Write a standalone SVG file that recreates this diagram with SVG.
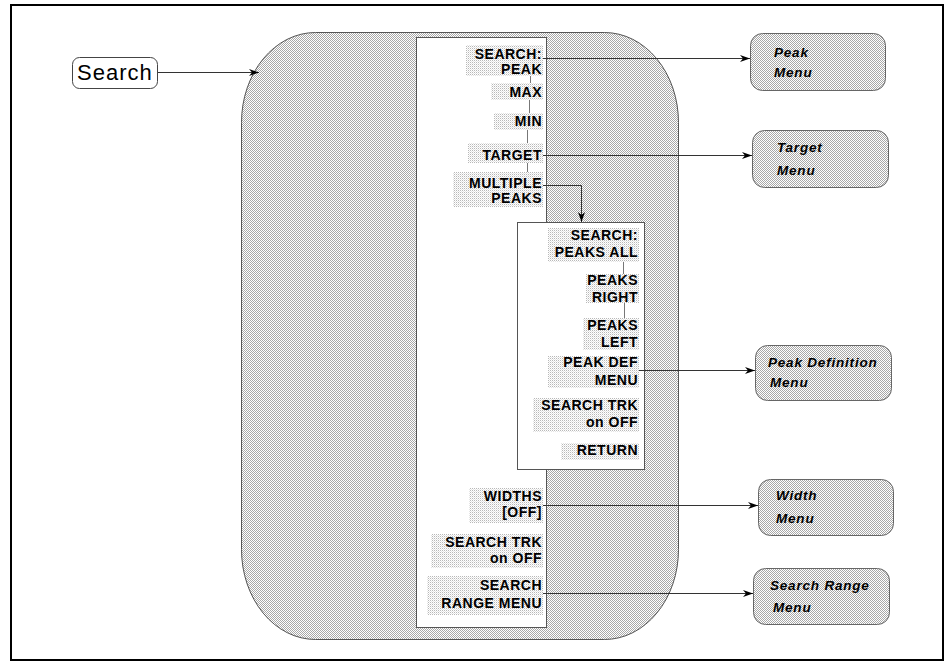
<svg xmlns="http://www.w3.org/2000/svg" width="947" height="662" viewBox="0 0 947 662">
<defs>
<pattern id="dither" patternUnits="userSpaceOnUse" x="0" y="0" width="2" height="2">
<rect width="2" height="2" fill="#ffffff"/>
<rect x="0" y="0" width="1" height="1" fill="#a8a8a8"/>
<rect x="1" y="1" width="1" height="1" fill="#a8a8a8"/>
</pattern>
<pattern id="dots" patternUnits="userSpaceOnUse" x="0" y="0" width="2" height="2">
<rect width="2" height="2" fill="#ffffff"/>
<rect x="0" y="0" width="1" height="1" fill="#b8b8b8"/>
<rect x="1" y="1" width="1" height="1" fill="#e4e4e4"/>
</pattern>
<marker id="arr" markerWidth="10" markerHeight="7" refX="10" refY="3.5" orient="auto" markerUnits="userSpaceOnUse">
<path d="M0,0 L10,3.5 L0,7 L3,3.5 z" fill="#000"/>
</marker>
<style>
.frame{fill:none;stroke:#000;stroke-width:2}
.big{fill:url(#dither);stroke:#555;stroke-width:1}
.col{fill:#fff;stroke:#555;stroke-width:1}
.lbg{fill:url(#dots)}
.lbl{font-family:"Liberation Sans",Arial,sans-serif;font-size:14px;font-weight:bold;letter-spacing:0.5px;fill:#000;text-anchor:end}
.box{fill:url(#dither);stroke:#666;stroke-width:1}
.btxt{font-family:"Liberation Sans",Arial,sans-serif;font-size:13.5px;font-weight:bold;font-style:italic;letter-spacing:0.8px;fill:#000}
.conn{fill:none;stroke:#333;stroke-width:1}
.tick{fill:none;stroke:#777;stroke-width:1}
</style>
</defs>
<rect class="frame" x="11" y="5" width="932" height="655"/>
<g id="panel">
<rect class="big" x="241.5" y="32.5" width="437" height="607" rx="74" ry="90"/>
</g>
<g id="search">
<rect x="72.5" y="57.5" width="85" height="31" rx="7" ry="7" fill="#fff" stroke="#444" stroke-width="1"/>
<text x="77" y="80" font-family="'Liberation Sans',Arial,sans-serif" font-size="22" letter-spacing="1" fill="#000">Search</text>
</g>
<g id="main-menu">
<rect class="col" x="416.5" y="37.5" width="130" height="590"/>
<g id="btn-search-peak"><rect class="lbg" x="466" y="45" width="77" height="31"/><text class="lbl" x="542" y="59">SEARCH:</text><text class="lbl" x="542" y="74">PEAK</text></g>
<g id="btn-max"><rect class="lbg" x="491" y="83" width="52" height="17"/><text class="lbl" x="542" y="97">MAX</text></g>
<g id="btn-min"><rect class="lbg" x="494" y="113" width="49" height="17"/><text class="lbl" x="542" y="126">MIN</text></g>
<g id="btn-target"><rect class="lbg" x="468" y="143" width="75" height="20"/><text class="lbl" x="542" y="160">TARGET</text></g>
<g id="btn-multiple"><rect class="lbg" x="453" y="172" width="90" height="35"/><text class="lbl" x="542" y="188">MULTIPLE</text><text class="lbl" x="542" y="203">PEAKS</text></g>
<g id="btn-widths"><rect class="lbg" x="469" y="488" width="74" height="35"/><text class="lbl" x="542" y="501">WIDTHS</text><text class="lbl" x="542" y="517">[OFF]</text></g>
<g id="btn-trk"><rect class="lbg" x="431" y="534" width="112" height="34"/><text class="lbl" x="542" y="547">SEARCH TRK</text><text class="lbl" x="542" y="563">on OFF</text></g>
<g id="btn-range"><rect class="lbg" x="427" y="576" width="116" height="39"/><text class="lbl" x="542" y="590">SEARCH</text><text class="lbl" x="542" y="608">RANGE MENU</text></g>
</g>
<g id="sub-menu">
<rect class="col" x="517.5" y="222.5" width="127" height="247"/>
<g id="btn-peaks-all"><rect class="lbg" x="548" y="228" width="91" height="34"/><text class="lbl" x="638" y="240">SEARCH:</text><text class="lbl" x="638" y="257">PEAKS ALL</text></g>
<g id="btn-peaks-right"><rect class="lbg" x="586" y="274" width="53" height="29"/><text class="lbl" x="638" y="285">PEAKS</text><text class="lbl" x="638" y="302">RIGHT</text></g>
<g id="btn-peaks-left"><rect class="lbg" x="583" y="318" width="56" height="32"/><text class="lbl" x="638" y="330">PEAKS</text><text class="lbl" x="638" y="347">LEFT</text></g>
<g id="btn-peak-def"><rect class="lbg" x="548" y="356" width="91" height="32"/><text class="lbl" x="638" y="367">PEAK DEF</text><text class="lbl" x="638" y="385">MENU</text></g>
<g id="btn-sub-trk"><rect class="lbg" x="533" y="398" width="106" height="34"/><text class="lbl" x="638" y="410">SEARCH TRK</text><text class="lbl" x="638" y="427">on OFF</text></g>
<g id="btn-return"><rect class="lbg" x="561" y="443" width="78" height="17"/><text class="lbl" x="638" y="455">RETURN</text></g>
</g>
<g id="peak-menu"><rect class="box" x="750.5" y="33.5" width="135" height="57" rx="12" ry="12"/><text class="btxt" x="774" y="57">Peak</text><text class="btxt" x="774" y="77">Menu</text></g>
<g id="target-menu"><rect class="box" x="752.5" y="130.5" width="136" height="57" rx="12" ry="12"/><text class="btxt" x="777" y="152">Target</text><text class="btxt" x="777" y="175">Menu</text></g>
<g id="peakdef-menu"><rect class="box" x="755.5" y="345.5" width="136" height="55" rx="12" ry="12"/><text class="btxt" x="768" y="367">Peak  Definition</text><text class="btxt" x="770" y="387">Menu</text></g>
<g id="width-menu"><rect class="box" x="758.5" y="479.5" width="135" height="56" rx="12" ry="12"/><text class="btxt" x="776" y="500">Width</text><text class="btxt" x="776" y="523">Menu</text></g>
<g id="range-menu"><rect class="box" x="753.5" y="568.5" width="136" height="56" rx="12" ry="12"/><text class="btxt" x="770" y="590">Search Range</text><text class="btxt" x="773" y="612">Menu</text></g>
<g id="connectors">
<line class="conn" x1="158" y1="72.5" x2="259" y2="72.5" marker-end="url(#arr)"/>
<line class="conn" x1="543" y1="58.5" x2="750" y2="58.5" marker-end="url(#arr)"/>
<line class="conn" x1="543" y1="155.5" x2="752" y2="155.5" marker-end="url(#arr)"/>
<polyline class="conn" points="543,185.5 581.5,185.5 581.5,222" marker-end="url(#arr)"/>
<line class="conn" x1="639" y1="370.5" x2="755" y2="370.5" marker-end="url(#arr)"/>
<line class="conn" x1="543" y1="505.5" x2="758" y2="505.5" marker-end="url(#arr)"/>
<line class="conn" x1="543" y1="593.5" x2="753" y2="593.5" marker-end="url(#arr)"/>
<line class="tick" x1="530.5" y1="76" x2="530.5" y2="83"/>
<line class="tick" x1="529.5" y1="100" x2="529.5" y2="113"/>
<line class="tick" x1="527.5" y1="130" x2="527.5" y2="143"/>
<line class="tick" x1="527.5" y1="163" x2="527.5" y2="172"/>
<line class="tick" x1="623.5" y1="262" x2="623.5" y2="274"/>
<line class="tick" x1="624.5" y1="303" x2="624.5" y2="318"/>
</g>
</svg>
